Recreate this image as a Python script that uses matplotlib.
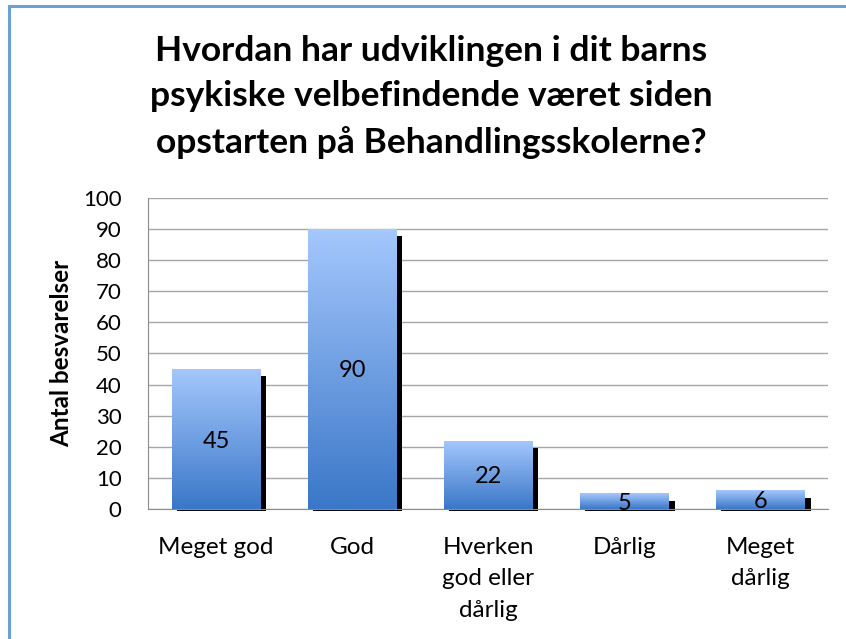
import numpy as np
import matplotlib.pyplot as plt
from matplotlib.colors import LinearSegmentedColormap
from matplotlib.patches import Rectangle
from matplotlib.lines import Line2D

plt.rcParams['font.family'] = ['Lato', 'DejaVu Sans']

# data
categories = ["Meget god", "God", "Hverken\ngod eller\ndårlig", "Dårlig", "Meget\ndårlig"]
values = [45, 90, 22, 5, 6]
title = "Hvordan har udviklingen i dit barns\npsykiske velbefindende været siden\nopstarten på Behandlingsskolerne?"
ylabel = "Antal besvarelser"

fig = plt.figure(figsize=(8.46, 6.39), dpi=100)
ax = fig.add_axes([0.175, 0.2034, 0.804, 0.487])

grad = LinearSegmentedColormap.from_list("g", ["#3a77c8", "#a5c8fd"])
gimg = np.linspace(0, 1, 256).reshape(-1, 1)

width = 0.65
x = np.arange(len(values))
for xi, v in zip(x, values):
    left = xi - width / 2
    # black shadow, offset right/down
    sh = Rectangle((left + 0.035, -0.6), width + 0.01, v - 1.8, facecolor="black",
                   edgecolor="none", zorder=2, clip_on=False)
    ax.add_patch(sh)
    r = Rectangle((left, 0), width, v, facecolor="none", edgecolor="none", zorder=3)
    ax.add_patch(r)
    im = ax.imshow(gimg, cmap=grad, aspect="auto", origin="lower",
                   extent=(left, left + width, 0, v), zorder=3)
    im.set_clip_path(r)
    ax.text(xi, v / 2, str(v), ha="center", va="center_baseline", fontsize=17, zorder=4)

ax.set_xlim(-0.5, len(values) - 0.5)
ax.set_ylim(0, 100)
ax.set_yticks(np.arange(0, 101, 10))
ax.set_xticks(x)
ax.set_xticklabels(categories, fontsize=17.5, linespacing=1.62, va="top")
ax.tick_params(axis="y", labelsize=16, length=0, pad=19)
ax.tick_params(axis="x", length=0, pad=20)
ax.yaxis.grid(True, color="#a6a6a6", linewidth=1)
ax.set_axisbelow(True)
for s in ["top", "right"]:
    ax.spines[s].set_visible(False)
for s in ["left", "bottom"]:
    ax.spines[s].set_color("#8c8c8c")
ax.set_ylabel(ylabel, fontsize=17.5, fontweight="bold")
ax.yaxis.set_label_coords(-0.11, 0.5)

fig.text(0.51, 0.848, title, ha="center", va="center", fontsize=25.5,
         fontweight="bold", linespacing=1.5)

# chart border
fig.add_artist(Line2D([0.0105, 0.0105], [0, 1 - 6 / 639], color="#6d9fd9", lw=2.2))
fig.add_artist(Line2D([0.0105, 1], [1 - 6 / 639, 1 - 6 / 639], color="#6d9fd9", lw=2.2))

fig.savefig("out.png", dpi=100)
